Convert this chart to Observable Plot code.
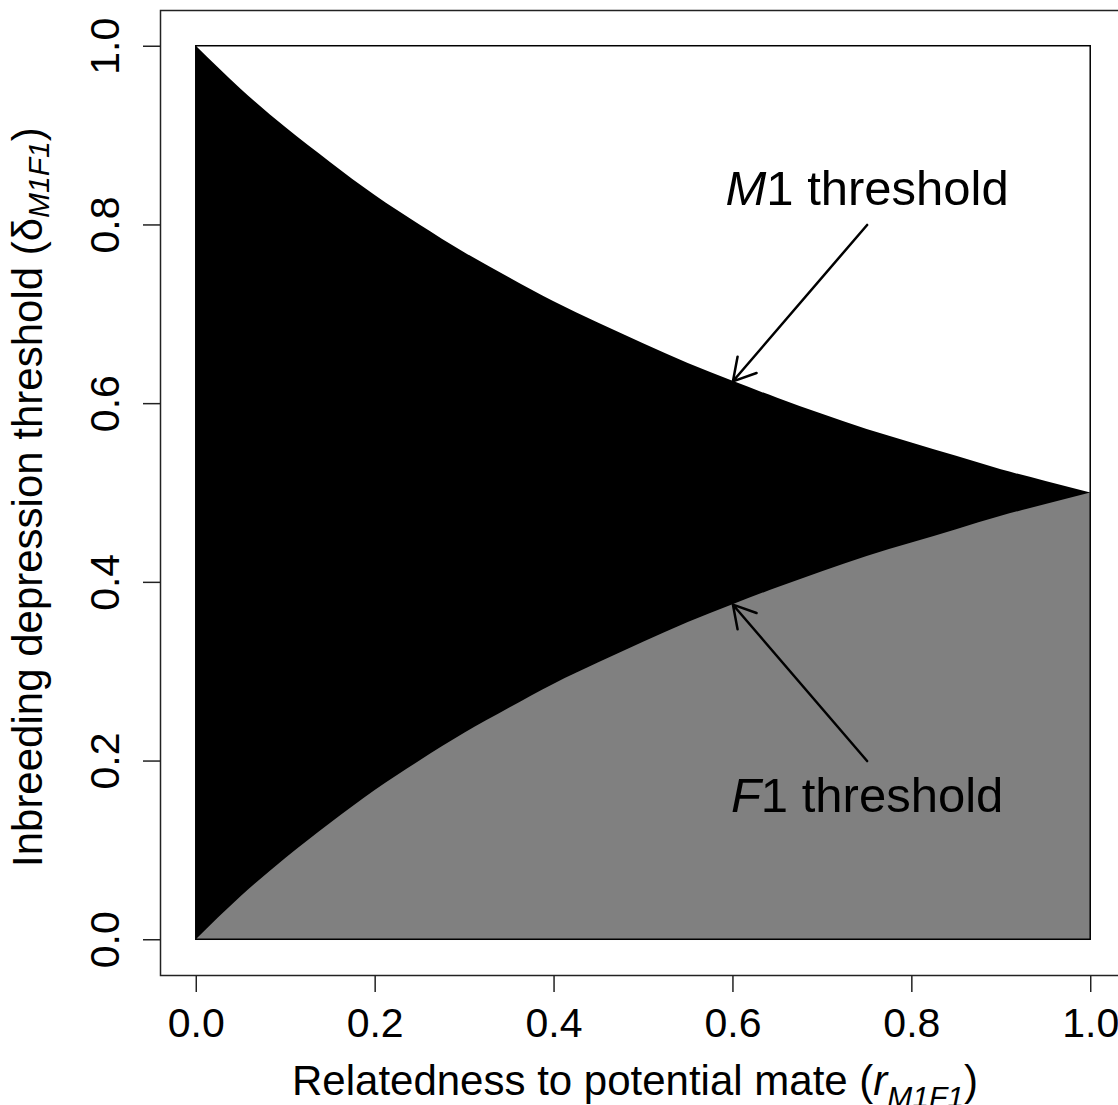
<!DOCTYPE html>
<html>
<head>
<meta charset="utf-8">
<script src="https://cdn.jsdelivr.net/npm/d3@7"></script>
<script src="https://cdn.jsdelivr.net/npm/@observablehq/plot@0.6"></script>
<style>
  html, body { margin: 0; padding: 0; background: white; overflow: hidden; }
  #chart svg { display: block; max-width: none !important; }
</style>
</head>
<body>
<div id="chart"></div>
<script>
// Relatedness to potential mate (r)
const relatedness = [0, 0.05, 0.10, 0.15, 0.20, 0.25, 0.30, 0.35, 0.40, 0.45, 0.50,
                     0.55, 0.60, 0.65, 0.70, 0.75, 0.80, 0.85, 0.90, 0.95, 1.00];
// M1 threshold curve (upper boundary of black region)
const m1Threshold = [1.000, 0.952, 0.909, 0.870, 0.833, 0.800, 0.769, 0.741, 0.714, 0.690, 0.667,
                     0.645, 0.625, 0.606, 0.588, 0.571, 0.556, 0.541, 0.526, 0.513, 0.500];
// F1 threshold curve (upper boundary of grey region)
const f1Threshold = [0.000, 0.048, 0.091, 0.130, 0.167, 0.200, 0.231, 0.259, 0.286, 0.310, 0.333,
                     0.355, 0.375, 0.394, 0.412, 0.429, 0.444, 0.459, 0.474, 0.487, 0.500];

const xTicks = [0, 0.2, 0.4, 0.6, 0.8, 1.0];
const yTicks = [0, 0.2, 0.4, 0.6, 0.8, 1.0];

// Annotation labels
const labelItalic = ["M", "F"];
const labelRest = ["1 threshold", "1 threshold"];
const labelX = [0.75, 0.75];
const labelY = [0.84, 0.16];

// Annotation arrows (from label toward curve)
const arrowFromX = [0.75, 0.75];
const arrowFromY = [0.80, 0.20];
const arrowToX = [0.60, 0.60];
const arrowToY = [0.625, 0.375];

const rows = relatedness.map((r, i) => ({r, m1: m1Threshold[i], f1: f1Threshold[i]}));
const labels = labelX.map((x, i) => ({x, y: labelY[i], text: labelItalic[i] + labelRest[i], it: labelItalic[i], rest: labelRest[i]}));
const arrows = arrowFromX.map((x1, i) => ({x1, y1: arrowFromY[i], x2: arrowToX[i], y2: arrowToY[i]}));
const box = [{x1: d3.min(relatedness), x2: d3.max(relatedness), y1: d3.min(f1Threshold), y2: d3.max(m1Threshold)}];

const font = "'Liberation Sans', Arial, Helvetica, sans-serif";
const fmt = d3.format(".1f");

const chart = Plot.plot({
  width: 1126,
  height: 1105,
  marginLeft: 160,
  marginRight: 0,
  marginTop: 10,
  marginBottom: 130,
  style: {fontFamily: font, background: "white", color: "black", overflow: "visible", maxWidth: "none"},
  x: {domain: [-0.04, 1.04], axis: null},
  y: {domain: [-0.04, 1.04], axis: null},
  marks: [
    Plot.areaY(rows, {x: "r", y1: 0, y2: "m1", fill: "black", curve: "natural"}),
    Plot.areaY(rows, {x: "r", y1: 0, y2: "f1", fill: "#808080", curve: "natural"}),
    Plot.rect(box, {x1: "x1", x2: "x2", y1: "y1", y2: "y2", fill: "none", stroke: "black", strokeWidth: 1.5}),
    Plot.arrow(arrows, {x1: "x1", y1: "y1", x2: "x2", y2: "y2", stroke: "black", strokeWidth: 2.5, headLength: 15, headAngle: 60}),
    Plot.text(labels, {x: "x", y: "y", text: "text", fontSize: 49, textAnchor: "middle", lineAnchor: "middle", fill: "black"}),
    Plot.frame({stroke: "#222", strokeWidth: 1.5}),
    Plot.axisX({ticks: xTicks, tickSize: 17, tickPadding: 15, tickFormat: fmt, fontSize: 41, label: null, strokeWidth: 1.5, stroke: "#222"}),
    Plot.axisY({ticks: yTicks, tickSize: 17, tickFormat: () => "", label: null, strokeWidth: 1.5, stroke: "#222"}),
    Plot.text(yTicks, {y: d => d, text: fmt, frameAnchor: "left", dx: -42, rotate: -90, textAnchor: "middle", lineAnchor: "bottom", fontSize: 41, fill: "black"})
  ]
});

document.getElementById("chart").appendChild(chart);

const svg = d3.select(chart);

// italicise the leading letter of the annotation labels
svg.selectAll("text").each(function() {
  const el = d3.select(this);
  const lab = labels.find(l => l.text === this.textContent);
  if (lab) {
    el.text(null);
    el.append("tspan").attr("font-style", "italic").text(lab.it);
    el.append("tspan").text(lab.rest);
  }
});

// x-axis title
const xt = svg.append("text")
  .attr("x", 292).attr("y", 1095).attr("text-anchor", "start")
  .attr("font-family", font).attr("font-size", 42).attr("fill", "black");
xt.append("tspan").text("Relatedness to potential mate (");
xt.append("tspan").attr("font-style", "italic").text("r");
xt.append("tspan").attr("font-style", "italic").attr("font-size", 30).attr("dy", 12).text("M1F1");
xt.append("tspan").attr("dy", -12).text(")");

// y-axis title
const yt = svg.append("text")
  .attr("transform", "translate(42,867) rotate(-90)").attr("text-anchor", "start")
  .attr("font-family", font).attr("font-size", 42).attr("fill", "black");
yt.append("tspan").text("Inbreeding depression threshold (δ");
yt.append("tspan").attr("font-style", "italic").attr("font-size", 30).attr("dy", 7).text("M1F1");
yt.append("tspan").attr("dy", -7).text(")");
</script>
</body>
</html>
